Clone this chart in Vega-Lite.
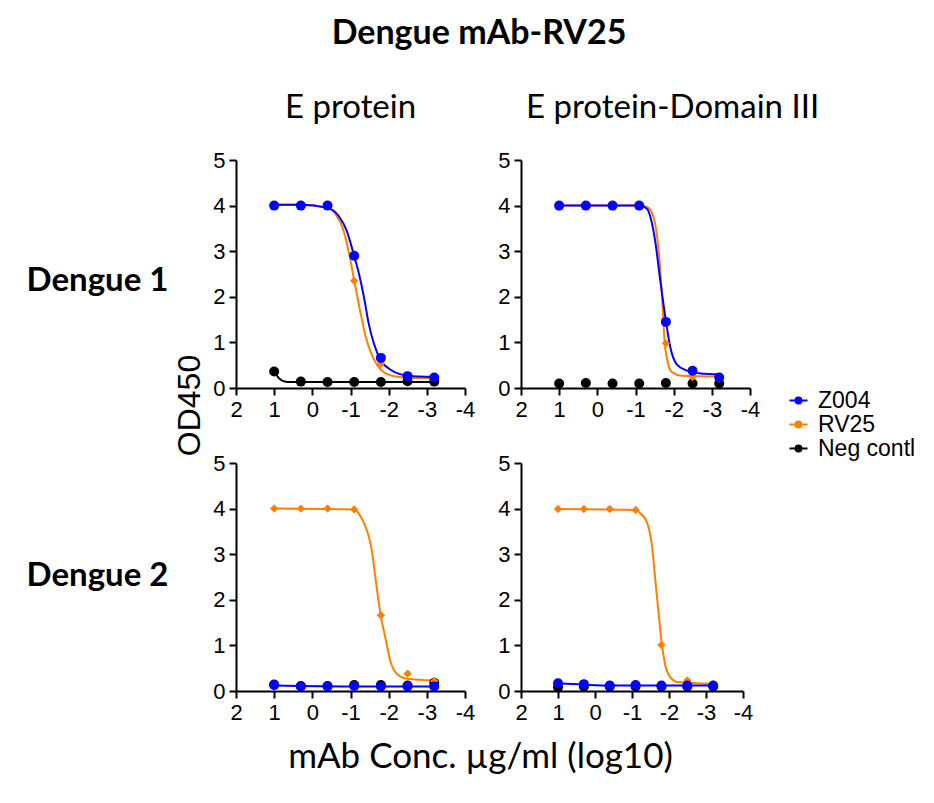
{
  "$schema": "https://vega.github.io/schema/vega-lite/v6.json",
  "padding": {"left": 26, "top": 17, "right": 10, "bottom": 10},
  "title": {"text": "Dengue mAb-RV25", "font": "Lato", "fontSize": 34, "fontWeight": "bold", "color": "#000", "anchor": "middle", "frame": "group", "dx": 243, "baseline": "alphabetic", "offset": 14},
  "datasets": {
    "points": [
      {"panel": "TL", "series": "Neg contl", "logc": 1, "od": 0.36},
      {"panel": "TL", "series": "Neg contl", "logc": 0.301, "od": 0.14},
      {"panel": "TL", "series": "Neg contl", "logc": -0.398, "od": 0.13},
      {"panel": "TL", "series": "Neg contl", "logc": -1.097, "od": 0.13},
      {"panel": "TL", "series": "Neg contl", "logc": -1.796, "od": 0.13},
      {"panel": "TL", "series": "Neg contl", "logc": -2.495, "od": 0.15},
      {"panel": "TL", "series": "Neg contl", "logc": -3.194, "od": 0.14},
      {"panel": "TL", "series": "RV25", "logc": 1, "od": 4.0},
      {"panel": "TL", "series": "RV25", "logc": 0.301, "od": 4.0},
      {"panel": "TL", "series": "RV25", "logc": -0.398, "od": 4.0},
      {"panel": "TL", "series": "RV25", "logc": -1.097, "od": 2.35},
      {"panel": "TL", "series": "RV25", "logc": -1.796, "od": 0.53},
      {"panel": "TL", "series": "RV25", "logc": -2.495, "od": 0.24},
      {"panel": "TL", "series": "RV25", "logc": -3.194, "od": 0.22},
      {"panel": "TL", "series": "Z004", "logc": 1, "od": 4.0},
      {"panel": "TL", "series": "Z004", "logc": 0.301, "od": 4.0},
      {"panel": "TL", "series": "Z004", "logc": -0.398, "od": 4.0},
      {"panel": "TL", "series": "Z004", "logc": -1.097, "od": 2.9},
      {"panel": "TL", "series": "Z004", "logc": -1.796, "od": 0.66},
      {"panel": "TL", "series": "Z004", "logc": -2.495, "od": 0.26},
      {"panel": "TL", "series": "Z004", "logc": -3.194, "od": 0.23},
      {"panel": "TR", "series": "Neg contl", "logc": 1, "od": 0.1},
      {"panel": "TR", "series": "Neg contl", "logc": 0.301, "od": 0.11},
      {"panel": "TR", "series": "Neg contl", "logc": -0.398, "od": 0.1},
      {"panel": "TR", "series": "Neg contl", "logc": -1.097, "od": 0.1},
      {"panel": "TR", "series": "Neg contl", "logc": -1.796, "od": 0.11},
      {"panel": "TR", "series": "Neg contl", "logc": -2.495, "od": 0.1},
      {"panel": "TR", "series": "Neg contl", "logc": -3.194, "od": 0.1},
      {"panel": "TR", "series": "RV25", "logc": 1, "od": 3.98},
      {"panel": "TR", "series": "RV25", "logc": 0.301, "od": 3.98},
      {"panel": "TR", "series": "RV25", "logc": -0.398, "od": 3.98},
      {"panel": "TR", "series": "RV25", "logc": -1.097, "od": 3.98},
      {"panel": "TR", "series": "RV25", "logc": -1.796, "od": 0.98},
      {"panel": "TR", "series": "RV25", "logc": -2.495, "od": 0.24},
      {"panel": "TR", "series": "RV25", "logc": -3.194, "od": 0.2},
      {"panel": "TR", "series": "Z004", "logc": 1, "od": 4.0},
      {"panel": "TR", "series": "Z004", "logc": 0.301, "od": 4.0},
      {"panel": "TR", "series": "Z004", "logc": -0.398, "od": 4.0},
      {"panel": "TR", "series": "Z004", "logc": -1.097, "od": 4.0},
      {"panel": "TR", "series": "Z004", "logc": -1.796, "od": 1.45},
      {"panel": "TR", "series": "Z004", "logc": -2.495, "od": 0.38},
      {"panel": "TR", "series": "Z004", "logc": -3.194, "od": 0.23},
      {"panel": "BL", "series": "Neg contl", "logc": 1, "od": 0.14},
      {"panel": "BL", "series": "Neg contl", "logc": 0.301, "od": 0.11},
      {"panel": "BL", "series": "Neg contl", "logc": -0.398, "od": 0.11},
      {"panel": "BL", "series": "Neg contl", "logc": -1.097, "od": 0.13},
      {"panel": "BL", "series": "Neg contl", "logc": -1.796, "od": 0.13},
      {"panel": "BL", "series": "Neg contl", "logc": -2.495, "od": 0.12},
      {"panel": "BL", "series": "Neg contl", "logc": -3.194, "od": 0.18},
      {"panel": "BL", "series": "RV25", "logc": 1, "od": 4.0},
      {"panel": "BL", "series": "RV25", "logc": 0.301, "od": 4.0},
      {"panel": "BL", "series": "RV25", "logc": -0.398, "od": 4.0},
      {"panel": "BL", "series": "RV25", "logc": -1.097, "od": 3.98},
      {"panel": "BL", "series": "RV25", "logc": -1.796, "od": 1.66},
      {"panel": "BL", "series": "RV25", "logc": -2.495, "od": 0.38},
      {"panel": "BL", "series": "RV25", "logc": -3.194, "od": 0.22},
      {"panel": "BL", "series": "Z004", "logc": 1, "od": 0.13},
      {"panel": "BL", "series": "Z004", "logc": 0.301, "od": 0.1},
      {"panel": "BL", "series": "Z004", "logc": -0.398, "od": 0.1},
      {"panel": "BL", "series": "Z004", "logc": -1.097, "od": 0.11},
      {"panel": "BL", "series": "Z004", "logc": -1.796, "od": 0.1},
      {"panel": "BL", "series": "Z004", "logc": -2.495, "od": 0.1},
      {"panel": "BL", "series": "Z004", "logc": -3.194, "od": 0.1},
      {"panel": "BR", "series": "Neg contl", "logc": 1, "od": 0.08},
      {"panel": "BR", "series": "Neg contl", "logc": 0.301, "od": 0.1},
      {"panel": "BR", "series": "Neg contl", "logc": -0.398, "od": 0.1},
      {"panel": "BR", "series": "Neg contl", "logc": -1.097, "od": 0.1},
      {"panel": "BR", "series": "Neg contl", "logc": -1.796, "od": 0.1},
      {"panel": "BR", "series": "Neg contl", "logc": -2.495, "od": 0.1},
      {"panel": "BR", "series": "Neg contl", "logc": -3.194, "od": 0.1},
      {"panel": "BR", "series": "RV25", "logc": 1, "od": 3.99},
      {"panel": "BR", "series": "RV25", "logc": 0.301, "od": 3.99},
      {"panel": "BR", "series": "RV25", "logc": -0.398, "od": 3.99},
      {"panel": "BR", "series": "RV25", "logc": -1.097, "od": 3.97},
      {"panel": "BR", "series": "RV25", "logc": -1.796, "od": 1.01},
      {"panel": "BR", "series": "RV25", "logc": -2.495, "od": 0.23},
      {"panel": "BR", "series": "RV25", "logc": -3.194, "od": 0.15},
      {"panel": "BR", "series": "Z004", "logc": 1, "od": 0.17},
      {"panel": "BR", "series": "Z004", "logc": 0.301, "od": 0.15},
      {"panel": "BR", "series": "Z004", "logc": -0.398, "od": 0.12},
      {"panel": "BR", "series": "Z004", "logc": -1.097, "od": 0.13},
      {"panel": "BR", "series": "Z004", "logc": -1.796, "od": 0.12},
      {"panel": "BR", "series": "Z004", "logc": -2.495, "od": 0.12},
      {"panel": "BR", "series": "Z004", "logc": -3.194, "od": 0.12}
    ],
    "curves": [
      {"panel": "TL", "series": "Neg contl", "logc": 1, "od": 0.36},
      {"panel": "TL", "series": "Neg contl", "logc": 0.88, "od": 0.22},
      {"panel": "TL", "series": "Neg contl", "logc": 0.75, "od": 0.15},
      {"panel": "TL", "series": "Neg contl", "logc": 0.55, "od": 0.13},
      {"panel": "TL", "series": "Neg contl", "logc": -1.0, "od": 0.13},
      {"panel": "TL", "series": "Neg contl", "logc": -3.2, "od": 0.13},
      {"panel": "TL", "series": "RV25", "logc": 1, "od": 4.02},
      {"panel": "TL", "series": "RV25", "logc": 0.3, "od": 4.02},
      {"panel": "TL", "series": "RV25", "logc": -0.4, "od": 3.95},
      {"panel": "TL", "series": "RV25", "logc": -0.6, "od": 3.82},
      {"panel": "TL", "series": "RV25", "logc": -0.8, "od": 3.5},
      {"panel": "TL", "series": "RV25", "logc": -0.95, "od": 3.0},
      {"panel": "TL", "series": "RV25", "logc": -1.1, "od": 2.35},
      {"panel": "TL", "series": "RV25", "logc": -1.25, "od": 1.7},
      {"panel": "TL", "series": "RV25", "logc": -1.4, "od": 1.12},
      {"panel": "TL", "series": "RV25", "logc": -1.55, "od": 0.75},
      {"panel": "TL", "series": "RV25", "logc": -1.7, "od": 0.5},
      {"panel": "TL", "series": "RV25", "logc": -1.9, "od": 0.33},
      {"panel": "TL", "series": "RV25", "logc": -2.2, "od": 0.25},
      {"panel": "TL", "series": "RV25", "logc": -2.6, "od": 0.22},
      {"panel": "TL", "series": "RV25", "logc": -3.2, "od": 0.22},
      {"panel": "TL", "series": "Z004", "logc": 1, "od": 4.02},
      {"panel": "TL", "series": "Z004", "logc": 0.3, "od": 4.02},
      {"panel": "TL", "series": "Z004", "logc": -0.4, "od": 3.95},
      {"panel": "TL", "series": "Z004", "logc": -0.7, "od": 3.76},
      {"panel": "TL", "series": "Z004", "logc": -0.9, "od": 3.45},
      {"panel": "TL", "series": "Z004", "logc": -1.1, "od": 2.88},
      {"panel": "TL", "series": "Z004", "logc": -1.22, "od": 2.51},
      {"panel": "TL", "series": "Z004", "logc": -1.35, "od": 2.0},
      {"panel": "TL", "series": "Z004", "logc": -1.48, "od": 1.4},
      {"panel": "TL", "series": "Z004", "logc": -1.61, "od": 0.98},
      {"panel": "TL", "series": "Z004", "logc": -1.8, "od": 0.6},
      {"panel": "TL", "series": "Z004", "logc": -2.05, "od": 0.4},
      {"panel": "TL", "series": "Z004", "logc": -2.5, "od": 0.27},
      {"panel": "TL", "series": "Z004", "logc": -3.2, "od": 0.24},
      {"panel": "TR", "series": "RV25", "logc": 1, "od": 4.0},
      {"panel": "TR", "series": "RV25", "logc": -1.1, "od": 4.0},
      {"panel": "TR", "series": "RV25", "logc": -1.3, "od": 3.97},
      {"panel": "TR", "series": "RV25", "logc": -1.45, "od": 3.8},
      {"panel": "TR", "series": "RV25", "logc": -1.55, "od": 3.42},
      {"panel": "TR", "series": "RV25", "logc": -1.63, "od": 2.8},
      {"panel": "TR", "series": "RV25", "logc": -1.7, "od": 1.95},
      {"panel": "TR", "series": "RV25", "logc": -1.76, "od": 1.05},
      {"panel": "TR", "series": "RV25", "logc": -1.85, "od": 0.55},
      {"panel": "TR", "series": "RV25", "logc": -1.95, "od": 0.35},
      {"panel": "TR", "series": "RV25", "logc": -2.2, "od": 0.27},
      {"panel": "TR", "series": "RV25", "logc": -3.2, "od": 0.25},
      {"panel": "TR", "series": "Z004", "logc": 1, "od": 4.0},
      {"panel": "TR", "series": "Z004", "logc": -1.1, "od": 4.0},
      {"panel": "TR", "series": "Z004", "logc": -1.3, "od": 3.93},
      {"panel": "TR", "series": "Z004", "logc": -1.42, "od": 3.65},
      {"panel": "TR", "series": "Z004", "logc": -1.52, "od": 3.2},
      {"panel": "TR", "series": "Z004", "logc": -1.65, "od": 2.35},
      {"panel": "TR", "series": "Z004", "logc": -1.8, "od": 1.45},
      {"panel": "TR", "series": "Z004", "logc": -1.91, "od": 0.9},
      {"panel": "TR", "series": "Z004", "logc": -2.08, "od": 0.52},
      {"panel": "TR", "series": "Z004", "logc": -2.35, "od": 0.38},
      {"panel": "TR", "series": "Z004", "logc": -2.7, "od": 0.32},
      {"panel": "TR", "series": "Z004", "logc": -3.2, "od": 0.3},
      {"panel": "BL", "series": "RV25", "logc": 1, "od": 4.0},
      {"panel": "BL", "series": "RV25", "logc": -1.1, "od": 3.98},
      {"panel": "BL", "series": "RV25", "logc": -1.25, "od": 3.85},
      {"panel": "BL", "series": "RV25", "logc": -1.43, "od": 3.52},
      {"panel": "BL", "series": "RV25", "logc": -1.56, "od": 3.08},
      {"panel": "BL", "series": "RV25", "logc": -1.65, "od": 2.5},
      {"panel": "BL", "series": "RV25", "logc": -1.73, "od": 2.0},
      {"panel": "BL", "series": "RV25", "logc": -1.8, "od": 1.62},
      {"panel": "BL", "series": "RV25", "logc": -1.91, "od": 1.18},
      {"panel": "BL", "series": "RV25", "logc": -2.04, "od": 0.67},
      {"panel": "BL", "series": "RV25", "logc": -2.21, "od": 0.38},
      {"panel": "BL", "series": "RV25", "logc": -2.48, "od": 0.27},
      {"panel": "BL", "series": "RV25", "logc": -3.2, "od": 0.23},
      {"panel": "BL", "series": "Z004", "logc": 1, "od": 0.12},
      {"panel": "BL", "series": "Z004", "logc": -1.0, "od": 0.1},
      {"panel": "BL", "series": "Z004", "logc": -3.2, "od": 0.1},
      {"panel": "BR", "series": "RV25", "logc": 1, "od": 3.99},
      {"panel": "BR", "series": "RV25", "logc": -1.1, "od": 3.97},
      {"panel": "BR", "series": "RV25", "logc": -1.22, "od": 3.9},
      {"panel": "BR", "series": "RV25", "logc": -1.4, "od": 3.71},
      {"panel": "BR", "series": "RV25", "logc": -1.54, "od": 3.18},
      {"panel": "BR", "series": "RV25", "logc": -1.63, "od": 2.44},
      {"panel": "BR", "series": "RV25", "logc": -1.72, "od": 1.69},
      {"panel": "BR", "series": "RV25", "logc": -1.81, "od": 1.01},
      {"panel": "BR", "series": "RV25", "logc": -1.9, "od": 0.56},
      {"panel": "BR", "series": "RV25", "logc": -2.04, "od": 0.3},
      {"panel": "BR", "series": "RV25", "logc": -2.22, "od": 0.2},
      {"panel": "BR", "series": "RV25", "logc": -3.2, "od": 0.16},
      {"panel": "BR", "series": "Z004", "logc": 1, "od": 0.17},
      {"panel": "BR", "series": "Z004", "logc": 0.3, "od": 0.14},
      {"panel": "BR", "series": "Z004", "logc": -0.4, "od": 0.12},
      {"panel": "BR", "series": "Z004", "logc": -3.2, "od": 0.12}
    ]
  },
  "columns": 2,
  "bounds": "flush",
  "spacing": {"row": 75, "column": 56},
  "concat": [
    {
      "width": 229, "height": 228,
      "title": {"text": "E protein", "font": "Lato", "fontSize": 33, "fontWeight": "normal", "color": "#000", "anchor": "middle", "frame": "group", "baseline": "alphabetic", "offset": -2},
      "layer": [
        {
          "data": {"name": "curves"},
          "transform": [{"filter": "datum.panel === 'TL'"}],
          "mark": {"type": "line", "interpolate": "monotone", "strokeWidth": 2},
          "encoding": {
            "x": {"field": "logc", "type": "quantitative", "scale": {"domain": [2, -4], "nice": false, "zero": false},
                  "axis": {"values": [2, 1, 0, -1, -2, -3, -4], "tickCount": 12, "format": "d", "labelExpr": "replace(datum.label, '−', '-')", "title": "OD450", "titleAngle": 270, "titleX": -47, "titleY": 17, "titleAlign": "center", "titleBaseline": "middle", "titleFont": "Liberation Sans", "titleFontSize": 32, "titleFontWeight": "normal"}},
            "y": {"field": "od", "type": "quantitative", "scale": {"domain": [0, 5], "nice": false},
                  "axis": {"values": [0, 1, 2, 3, 4, 5], "tickCount": 12, "format": "d", "title": "Dengue 1", "titleAngle": 0, "titleX": -68, "titleY": 130, "titleAlign": "right", "titleBaseline": "alphabetic", "titleFont": "Lato", "titleFontSize": 33, "titleFontWeight": "bold"}},
            "color": {"field": "series", "type": "nominal", "scale": {"domain": ["Z004", "RV25", "Neg contl"], "range": ["#0000ff", "#ff8000", "#000000"]},
                      "legend": {"title": null, "orient": "none", "legendX": 551, "legendY": 229, "symbolType": "M-1,0H1M-0.33,0A0.33,0.33,0,1,0,0.33,0A0.33,0.33,0,1,0,-0.33,0Z", "symbolSize": 324, "symbolStrokeWidth": 2, "labelFont": "Liberation Sans", "labelFontSize": 23, "labelColor": "#000", "labelOffset": 8, "rowPadding": 0,
                                 "encode": {"symbols": {"update": {"fill": {"scale": "color", "field": "value"}, "stroke": {"scale": "color", "field": "value"}, "strokeWidth": {"value": 2}, "opacity": {"value": 1}}}}}}
          }
        },
        {"data": {"name": "points"}, "transform": [{"filter": "datum.panel === 'TL' && datum.series === 'Neg contl'"}],
         "mark": {"type": "point", "shape": "circle", "filled": true, "opacity": 1, "size": 100, "color": "#000000"},
         "encoding": {"x": {"field": "logc", "type": "quantitative"}, "y": {"field": "od", "type": "quantitative"}}},
        {"data": {"name": "points"}, "transform": [{"filter": "datum.panel === 'TL' && datum.series === 'RV25'"}],
         "mark": {"type": "point", "shape": "diamond", "filled": true, "opacity": 1, "size": 70, "color": "#ff8000"},
         "encoding": {"x": {"field": "logc", "type": "quantitative"}, "y": {"field": "od", "type": "quantitative"}}},
        {"data": {"name": "points"}, "transform": [{"filter": "datum.panel === 'TL' && datum.series === 'Z004'"}],
         "mark": {"type": "point", "shape": "circle", "filled": true, "opacity": 1, "size": 100, "color": "#0000ff"},
         "encoding": {"x": {"field": "logc", "type": "quantitative"}, "y": {"field": "od", "type": "quantitative"}}}
      ]
    },
    {
      "width": 229, "height": 228,
      "title": {"text": "E protein-Domain III", "font": "Lato", "fontSize": 33, "fontWeight": "normal", "color": "#000", "anchor": "start", "frame": "group", "dx": 5, "baseline": "alphabetic", "offset": -2},
      "layer": [
        {
          "data": {"name": "curves"},
          "transform": [{"filter": "datum.panel === 'TR'"}],
          "mark": {"type": "line", "interpolate": "monotone", "strokeWidth": 2},
          "encoding": {
            "x": {"field": "logc", "type": "quantitative", "scale": {"domain": [2, -4], "nice": false, "zero": false}, "axis": {"values": [2, 1, 0, -1, -2, -3, -4], "tickCount": 12, "format": "d", "labelExpr": "replace(datum.label, '−', '-')", "title": null}},
            "y": {"field": "od", "type": "quantitative", "scale": {"domain": [0, 5], "nice": false}, "axis": {"values": [0, 1, 2, 3, 4, 5], "tickCount": 12, "format": "d", "title": null}},
            "color": {"field": "series", "type": "nominal",
                      "legend": {"title": null, "orient": "none", "legendX": 551, "legendY": 229, "symbolType": "M-1,0H1M-0.33,0A0.33,0.33,0,1,0,0.33,0A0.33,0.33,0,1,0,-0.33,0Z", "symbolSize": 324, "symbolStrokeWidth": 2, "labelFont": "Liberation Sans", "labelFontSize": 23, "labelColor": "#000", "labelOffset": 8, "rowPadding": 0,
                                 "encode": {"symbols": {"update": {"fill": {"scale": "color", "field": "value"}, "stroke": {"scale": "color", "field": "value"}, "strokeWidth": {"value": 2}, "opacity": {"value": 1}}}}}}
          }
        },
        {"data": {"name": "points"}, "transform": [{"filter": "datum.panel === 'TR' && datum.series === 'Neg contl'"}],
         "mark": {"type": "point", "shape": "circle", "filled": true, "opacity": 1, "size": 100, "color": "#000000"},
         "encoding": {"x": {"field": "logc", "type": "quantitative"}, "y": {"field": "od", "type": "quantitative"}}},
        {"data": {"name": "points"}, "transform": [{"filter": "datum.panel === 'TR' && datum.series === 'RV25'"}],
         "mark": {"type": "point", "shape": "diamond", "filled": true, "opacity": 1, "size": 70, "color": "#ff8000"},
         "encoding": {"x": {"field": "logc", "type": "quantitative"}, "y": {"field": "od", "type": "quantitative"}}},
        {"data": {"name": "points"}, "transform": [{"filter": "datum.panel === 'TR' && datum.series === 'Z004'"}],
         "mark": {"type": "point", "shape": "circle", "filled": true, "opacity": 1, "size": 100, "color": "#0000ff"},
         "encoding": {"x": {"field": "logc", "type": "quantitative"}, "y": {"field": "od", "type": "quantitative"}}}
      ]
    },
    {
      "width": 229, "height": 228,
      "layer": [
        {
          "data": {"name": "curves"},
          "transform": [{"filter": "datum.panel === 'BL'"}],
          "mark": {"type": "line", "interpolate": "monotone", "strokeWidth": 2},
          "encoding": {
            "x": {"field": "logc", "type": "quantitative", "scale": {"domain": [2, -4], "nice": false, "zero": false},
                  "axis": {"values": [2, 1, 0, -1, -2, -3, -4], "tickCount": 12, "format": "d", "labelExpr": "replace(datum.label, '−', '-')", "title": "mAb Conc. µg/ml (log10)", "titleX": 244, "titleY": 76, "titleAlign": "center", "titleBaseline": "alphabetic", "titleFont": "Lato", "titleFontSize": 35, "titleFontWeight": "normal"}},
            "y": {"field": "od", "type": "quantitative", "scale": {"domain": [0, 5], "nice": false},
                  "axis": {"values": [0, 1, 2, 3, 4, 5], "tickCount": 12, "format": "d", "title": "Dengue 2", "titleAngle": 0, "titleX": -68, "titleY": 122, "titleAlign": "right", "titleBaseline": "alphabetic", "titleFont": "Lato", "titleFontSize": 33, "titleFontWeight": "bold"}},
            "color": {"field": "series", "type": "nominal",
                      "legend": {"title": null, "orient": "none", "legendX": 551, "legendY": 229, "symbolType": "M-1,0H1M-0.33,0A0.33,0.33,0,1,0,0.33,0A0.33,0.33,0,1,0,-0.33,0Z", "symbolSize": 324, "symbolStrokeWidth": 2, "labelFont": "Liberation Sans", "labelFontSize": 23, "labelColor": "#000", "labelOffset": 8, "rowPadding": 0,
                                 "encode": {"symbols": {"update": {"fill": {"scale": "color", "field": "value"}, "stroke": {"scale": "color", "field": "value"}, "strokeWidth": {"value": 2}, "opacity": {"value": 1}}}}}}
          }
        },
        {"data": {"name": "points"}, "transform": [{"filter": "datum.panel === 'BL' && datum.series === 'Neg contl'"}],
         "mark": {"type": "point", "shape": "circle", "filled": true, "opacity": 1, "size": 100, "color": "#000000"},
         "encoding": {"x": {"field": "logc", "type": "quantitative"}, "y": {"field": "od", "type": "quantitative"}}},
        {"data": {"name": "points"}, "transform": [{"filter": "datum.panel === 'BL' && datum.series === 'RV25'"}],
         "mark": {"type": "point", "shape": "diamond", "filled": true, "opacity": 1, "size": 70, "color": "#ff8000"},
         "encoding": {"x": {"field": "logc", "type": "quantitative"}, "y": {"field": "od", "type": "quantitative"}}},
        {"data": {"name": "points"}, "transform": [{"filter": "datum.panel === 'BL' && datum.series === 'Z004'"}],
         "mark": {"type": "point", "shape": "circle", "filled": true, "opacity": 1, "size": 100, "color": "#0000ff"},
         "encoding": {"x": {"field": "logc", "type": "quantitative"}, "y": {"field": "od", "type": "quantitative"}}}
      ]
    },
    {
      "width": 222, "height": 228,
      "layer": [
        {
          "data": {"name": "curves"},
          "transform": [{"filter": "datum.panel === 'BR'"}],
          "mark": {"type": "line", "interpolate": "monotone", "strokeWidth": 2},
          "encoding": {
            "x": {"field": "logc", "type": "quantitative", "scale": {"domain": [2, -4], "nice": false, "zero": false}, "axis": {"values": [2, 1, 0, -1, -2, -3, -4], "tickCount": 12, "format": "d", "labelExpr": "replace(datum.label, '−', '-')", "title": null}},
            "y": {"field": "od", "type": "quantitative", "scale": {"domain": [0, 5], "nice": false}, "axis": {"values": [0, 1, 2, 3, 4, 5], "tickCount": 12, "format": "d", "title": null}},
            "color": {"field": "series", "type": "nominal",
                      "legend": {"title": null, "orient": "none", "legendX": 551, "legendY": 229, "symbolType": "M-1,0H1M-0.33,0A0.33,0.33,0,1,0,0.33,0A0.33,0.33,0,1,0,-0.33,0Z", "symbolSize": 324, "symbolStrokeWidth": 2, "labelFont": "Liberation Sans", "labelFontSize": 23, "labelColor": "#000", "labelOffset": 8, "rowPadding": 0,
                                 "encode": {"symbols": {"update": {"fill": {"scale": "color", "field": "value"}, "stroke": {"scale": "color", "field": "value"}, "strokeWidth": {"value": 2}, "opacity": {"value": 1}}}}}}
          }
        },
        {"data": {"name": "points"}, "transform": [{"filter": "datum.panel === 'BR' && datum.series === 'Neg contl'"}],
         "mark": {"type": "point", "shape": "circle", "filled": true, "opacity": 1, "size": 100, "color": "#000000"},
         "encoding": {"x": {"field": "logc", "type": "quantitative"}, "y": {"field": "od", "type": "quantitative"}}},
        {"data": {"name": "points"}, "transform": [{"filter": "datum.panel === 'BR' && datum.series === 'RV25'"}],
         "mark": {"type": "point", "shape": "diamond", "filled": true, "opacity": 1, "size": 70, "color": "#ff8000"},
         "encoding": {"x": {"field": "logc", "type": "quantitative"}, "y": {"field": "od", "type": "quantitative"}}},
        {"data": {"name": "points"}, "transform": [{"filter": "datum.panel === 'BR' && datum.series === 'Z004'"}],
         "mark": {"type": "point", "shape": "circle", "filled": true, "opacity": 1, "size": 100, "color": "#0000ff"},
         "encoding": {"x": {"field": "logc", "type": "quantitative"}, "y": {"field": "od", "type": "quantitative"}}}
      ]
    }
  ],
  "config": {
    "background": "white",
    "view": {"stroke": null},
    "axis": {"grid": false, "domainColor": "#000", "domainWidth": 2, "tickColor": "#000", "tickWidth": 2, "tickSize": 7, "labelFont": "Liberation Sans", "labelFontSize": 22, "labelColor": "#000", "labelPadding": 4, "labelFlush": false, "labelOverlap": false, "titleColor": "#000"}
  }
}
